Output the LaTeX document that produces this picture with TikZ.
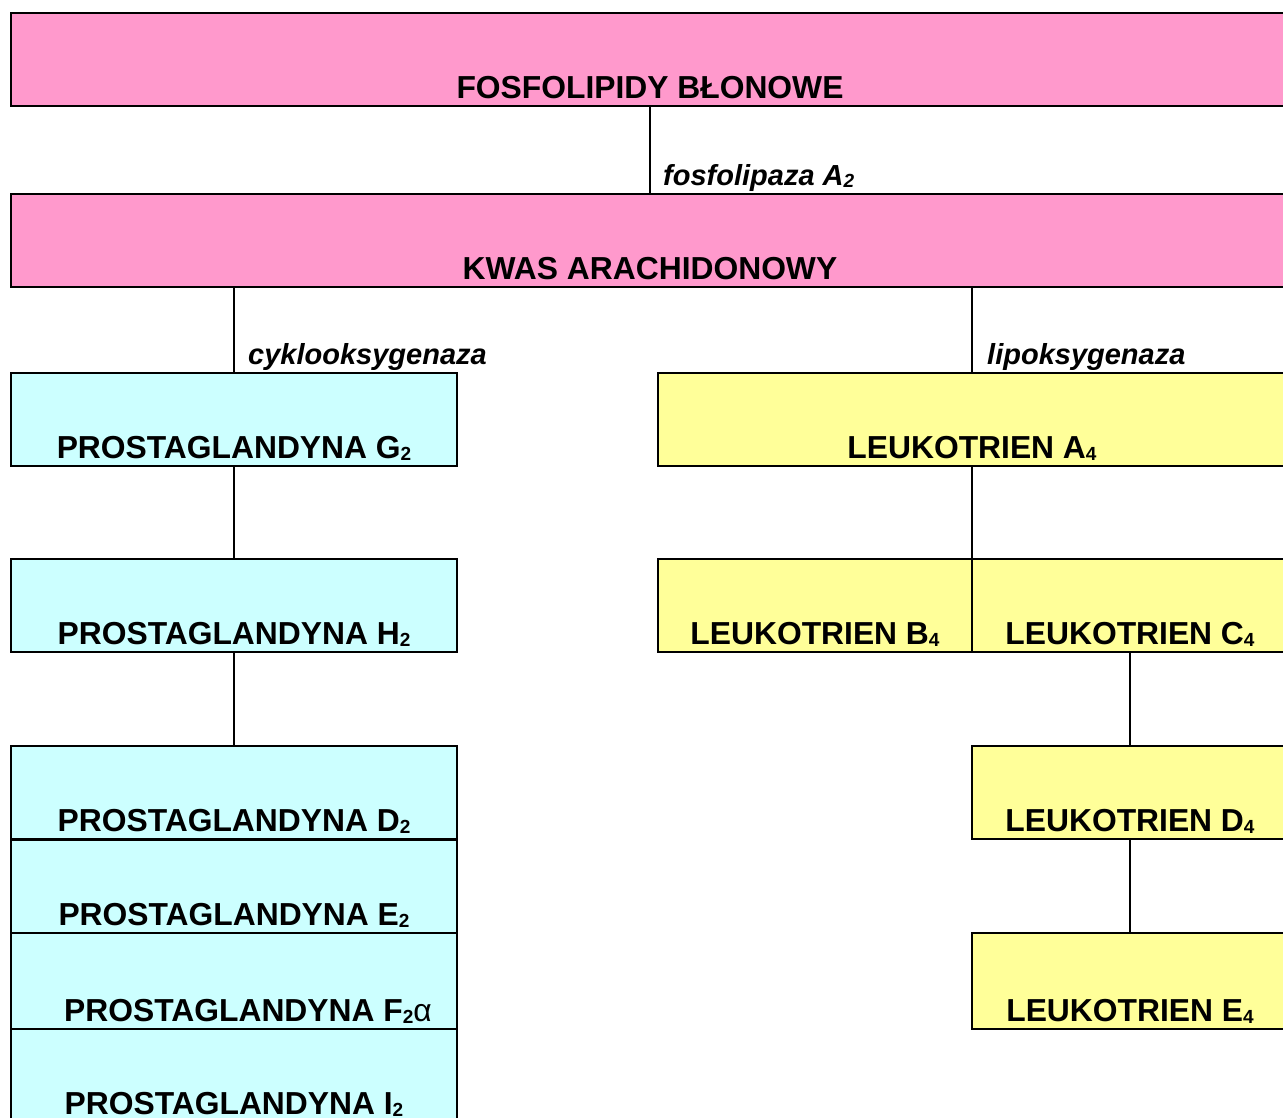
\documentclass[tikz,border=0pt]{standalone}
\usepackage{fontspec}
\setmainfont{Liberation Sans}

\definecolor{pinkbox}{RGB}{255,153,204}
\definecolor{cyanbox}{RGB}{204,255,255}
\definecolor{yellowbox}{RGB}{255,255,153}

\newcommand{\idx}[1]{\raisebox{-2pt}{\fontsize{19}{20}\selectfont #1}}

\tikzset{
  box/.style={draw=black, line width=2pt, anchor=north west, inner sep=0pt,
    minimum height=93pt, text height=85pt, text depth=8pt,
    font=\fontsize{31.8}{36}\selectfont\bfseries},
  pgbox/.style={box, fill=cyanbox, minimum width=446pt},
  ltbox/.style={box, fill=yellowbox, minimum width=316pt},
  enzyme/.style={anchor=base west, inner sep=0pt,
    font=\fontsize{29}{34}\selectfont\bfseries\itshape},
  conn/.style={draw=black, line width=1.3pt}
}

\begin{document}
\begin{tikzpicture}[x=1pt,y=-1pt]
  \useasboundingbox (0,0) rectangle (1283,1117);
  \clip (0,0) rectangle (1283,1117);
  \fill[white] (0,0) rectangle (1283,1117);

  % kwas arachidonowy
  \node[box, fill=pinkbox, minimum width=1278pt] (fos) at (10,12) {FOSFOLIPIDY BŁONOWE};
  \node[box, fill=pinkbox, minimum width=1278pt] (kwas) at (10,193) {KWAS ARACHIDONOWY};

  % prostaglandyny
  \node[pgbox] (pgg) at (10,372) {PROSTAGLANDYNA G\idx{2}};
  \node[pgbox] (pgh) at (10,558) {PROSTAGLANDYNA H\idx{2}};
  \node[pgbox] (pgd) at (10,745) {PROSTAGLANDYNA D\idx{2}};
  \node[pgbox] (pge) at (10,839) {PROSTAGLANDYNA E\idx{2}};
  \node[pgbox, minimum height=96pt, text height=88pt] (pgf) at (10,932) {\hspace*{28pt}PROSTAGLANDYNA F\idx{2}{\mdseries α}};
  \node[pgbox] (pgi) at (10,1028) {PROSTAGLANDYNA I\idx{2}};

  % leukotrieny
  \node[box, fill=yellowbox, minimum width=628pt] (lta) at (657,372) {LEUKOTRIEN A\idx{4}};
  \node[ltbox, minimum width=314pt] (ltb) at (657,558) {LEUKOTRIEN B\idx{4}};
  \node[ltbox] (ltc) at (971,558) {LEUKOTRIEN C\idx{4}};
  \node[ltbox] (ltd) at (971,745) {LEUKOTRIEN D\idx{4}};
  \node[ltbox, minimum height=96pt, text height=88pt] (lte) at (971,932) {LEUKOTRIEN E\idx{4}};

  % enzymy
  \node[enzyme] (fla) at (663,185) {fosfolipaza A\idx{2}};
  \node[enzyme] (cox) at (248,364) {cyklooksygenaza};
  \node[enzyme] (lox) at (987,364) {lipoksygenaza};

  \draw[conn] (fos.south) -- (kwas.north);
  \draw[conn] (kwas.south -| pgg.north) -- (pgg.north);
  \draw[conn] (kwas.south -| lta.south) -- (lta.north);
  \draw[conn] (pgg.south) -- (pgh.north);
  \draw[conn] (pgh.south) -- (pgd.north);
  \draw[conn] (lta.south) -- (lta.south |- ltc.north);
  \draw[conn] (ltc.south) -- (ltd.north);
  \draw[conn] (ltd.south) -- (lte.north);
\end{tikzpicture}
\end{document}
